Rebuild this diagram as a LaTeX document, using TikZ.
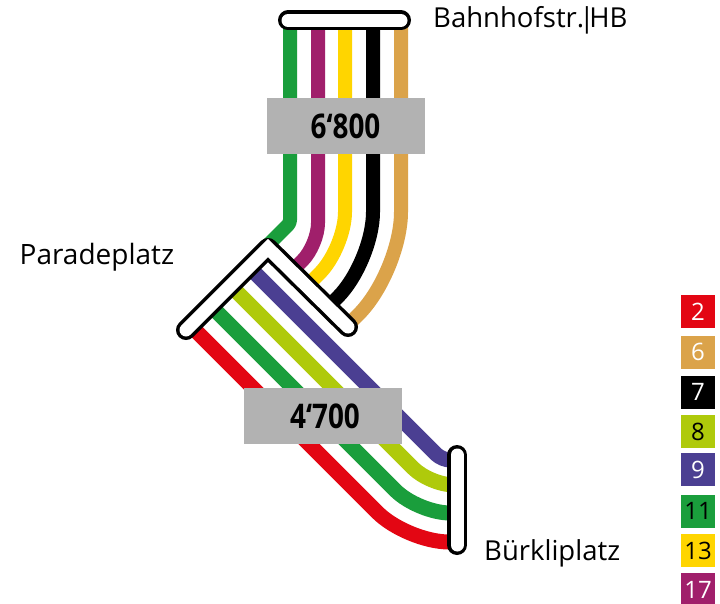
\documentclass[tikz,border=0pt]{standalone}
\usepackage{fontspec}
\setmainfont{Open Sans}
\newfontfamily\narrowbold[FakeStretch=0.82]{Open Sans}
\definecolor{cRed}{HTML}{E30613}
\definecolor{cTan}{HTML}{DBA34A}
\definecolor{cOlive}{HTML}{AFCA0B}
\definecolor{cBlue}{HTML}{4B3F92}
\definecolor{cGreen}{HTML}{1A9E3C}
\definecolor{cYellow}{HTML}{FFD500}
\definecolor{cPurple}{HTML}{A01F6B}
\definecolor{cGrey}{HTML}{B2B2B2}
\tikzset{
  tram/.style={line width=14pt,line join=round},
  tramlow/.style={line width=15pt,line join=round},
  stopouter/.style={line width=20pt,line cap=round,line join=round,draw=black},
  stopinner/.style={line width=13pt,line cap=round,line join=miter,draw=white},
  greybox/.style={fill=cGrey,draw=none,minimum width=158pt,minimum height=56pt,inner sep=0pt,
    font=\narrowbold\bfseries\fontsize{34}{34}\selectfont},
  stoplabel/.style={font=\fontsize{27.5}{27.5}\selectfont,inner sep=0pt,anchor=west,text=black},
  legendbox/.style={minimum width=34pt,minimum height=33pt,inner sep=0pt,font=\fontsize{24}{24}\selectfont}
}
\begin{document}
\begin{tikzpicture}[x=1pt,y=-1pt]
\useasboundingbox[fill=white] (0,0) rectangle (720,604);
% stop anchors and bends, upper section
\coordinate (tG) at (290,20); \coordinate (bG) at (290,223); \coordinate (eG) at (266,247);
\coordinate (tP) at (318,20); \coordinate (bP) at (318,245); \coordinate (eP) at (291.5,271.5);
\coordinate (tY) at (345,20); \coordinate (bY) at (345,248); \coordinate (eY) at (306.5,286.5);
\coordinate (tK) at (373,20); \coordinate (bK) at (373,262); \coordinate (eK) at (327.5,307.5);
\coordinate (tT) at (401,20); \coordinate (bT) at (401,272); \coordinate (eT) at (346.5,326.5);
% lower section
\coordinate (sB) at (249,267);     \coordinate (cB) at (442,460); \coordinate (fB) at (457,460);
\coordinate (sO) at (230.5,285.5); \coordinate (cO) at (430,485); \coordinate (fO) at (457,485);
\coordinate (sN) at (210.5,305.5); \coordinate (cN) at (418,513); \coordinate (fN) at (457,513);
\coordinate (sR) at (190.5,325.5); \coordinate (cR) at (407,542); \coordinate (fR) at (457,542);
% lines
\draw[tram,cGreen,rounded corners=3pt] (tG) -- (bG) -- (eG);
\draw[tram,cPurple,rounded corners=22pt] (tP) -- (bP) -- (eP);
\draw[tram,cYellow,rounded corners=36pt] (tY) -- (bY) -- (eY);
\draw[tram,black,rounded corners=50pt] (tK) -- (bK) -- (eK);
\draw[tram,cTan,rounded corners=60pt] (tT) -- (bT) -- (eT);
\draw[tramlow,cBlue,rounded corners=8pt] (sB) -- (cB) -- (fB);
\draw[tramlow,cOlive,rounded corners=24pt] (sO) -- (cO) -- (fO);
\draw[tramlow,cGreen,rounded corners=32pt] (sN) -- (cN) -- (fN);
\draw[tramlow,cRed,rounded corners=42pt] (sR) -- (cR) -- (fR);
% stops
\coordinate (hbL) at (288,20.5); \coordinate (hbR) at (401,20.5);
\draw[stopouter] (hbL) -- (hbR);
\draw[stopinner] (hbL) -- (hbR);
\coordinate (ppL) at (186,330); \coordinate (ppA) at (268,248); \coordinate (ppR) at (348,327);
\draw[stopouter] (ppL) -- (ppA) -- (ppR);
\draw[stopinner] (ppL) -- (ppA) -- (ppR);
\coordinate (bpT) at (457,455); \coordinate (bpB) at (457,545);
\draw[stopouter] (bpT) -- (bpB);
\draw[stopinner] (bpT) -- (bpB);
% grey boxes
\node[greybox] (d1) at (345.5,126) {6‘800};
\node[greybox] (d2) at (322.5,416) {\kern5pt 4‘700};
% stop labels
\node[stoplabel] (l1) at (433,20.5) {Bahnhofstr.\kern-5pt|\kern-5pt HB};
\node[stoplabel] (l2) at (19.5,257.5) {\fontsize{28}{28}\selectfont Paradeplatz};
\node[stoplabel] (l3) at (484,553) {Bürkliplatz};
% legend
\node[legendbox,fill=cRed,text=white] (k2) at (698,311.5) {2};
\node[legendbox,fill=cTan,text=white] (k6) at (698,352) {6};
\node[legendbox,fill=black,text=white] (k7) at (698,392) {7};
\node[legendbox,fill=cOlive,text=black] (k8) at (698,431.5) {8};
\node[legendbox,fill=cBlue,text=white] (k9) at (698,469.5) {9};
\node[legendbox,fill=cGreen,text=black] (k11) at (698,511) {11};
\node[legendbox,fill=cYellow,text=black] (k13) at (698,550.5) {13};
\node[legendbox,fill=cPurple,text=white] (k17) at (698,589.5) {17};
\end{tikzpicture}
\end{document}
